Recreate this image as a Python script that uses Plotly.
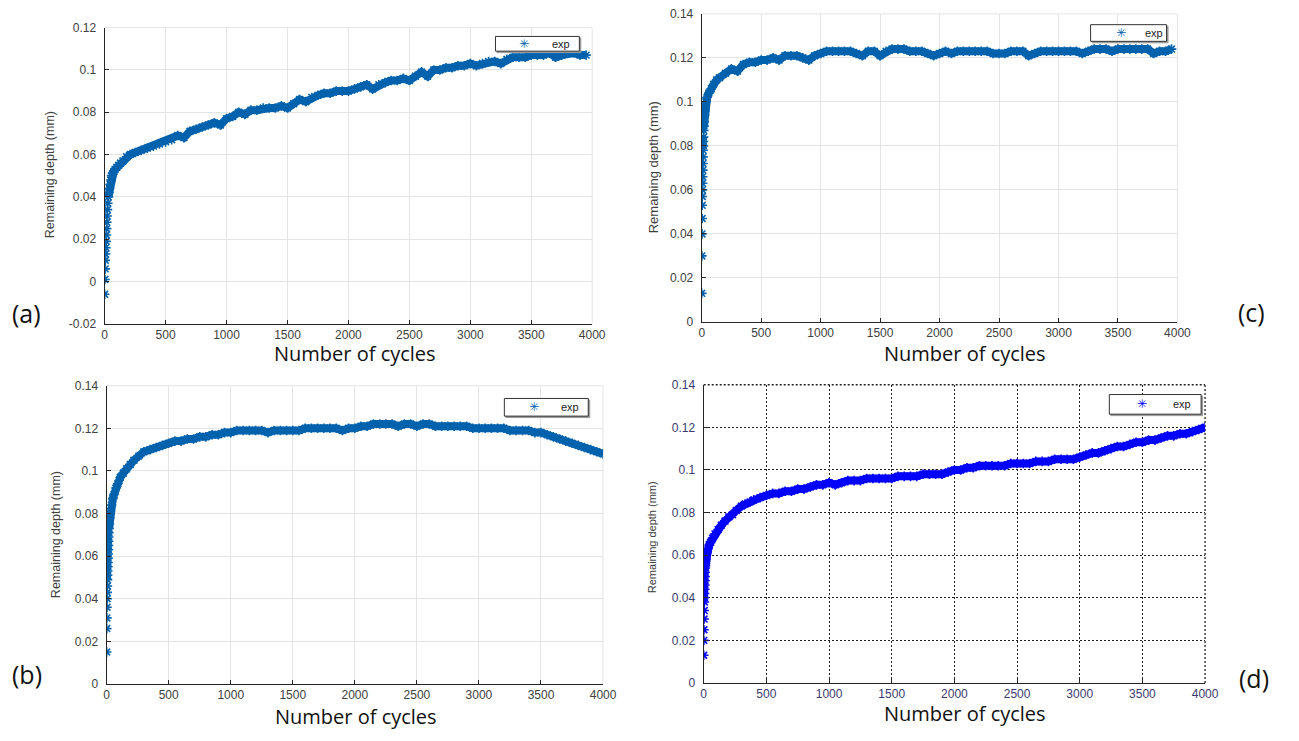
import plotly.graph_objects as go

# ---------------- data ----------------
bulk_cycles_3950 = [450, 500, 550, 600, 650, 700, 750, 800, 850, 900,
                    950, 1000, 1050, 1100, 1150, 1200, 1250, 1300, 1350, 1400,
                    1450, 1500, 1550, 1600, 1650, 1700, 1750, 1800, 1850, 1900,
                    1950, 2000, 2050, 2100, 2150, 2200, 2250, 2300, 2350, 2400,
                    2450, 2500, 2550, 2600, 2650, 2700, 2750, 2800, 2850, 2900,
                    2950, 3000, 3050, 3100, 3150, 3200, 3250, 3300, 3350, 3400,
                    3450, 3500, 3550, 3600, 3650, 3700, 3750, 3800, 3850, 3900,
                    3950]
bulk_cycles_4000 = bulk_cycles_3950 + [4000]

# (a)
cycles_a = [0, 2, 4, 6, 8, 10, 12, 14, 16, 18,
            20, 23, 26, 30, 35, 40, 45, 50, 57, 65,
            75, 85, 100, 115, 130, 150, 180, 210, 250, 300,
            350, 400] + bulk_cycles_3950
depth_a = [-0.006, 0.001, 0.006, 0.010, 0.013, 0.016, 0.019, 0.022, 0.025, 0.028,
           0.031, 0.034, 0.037, 0.040, 0.042, 0.044, 0.046, 0.048, 0.050, 0.051,
           0.052, 0.053, 0.054, 0.055, 0.056, 0.057, 0.059, 0.060, 0.061, 0.062,
           0.063, 0.064, 0.065, 0.066, 0.067, 0.069, 0.068, 0.071, 0.072, 0.073,
           0.074, 0.075, 0.074, 0.077, 0.078, 0.080, 0.079, 0.081, 0.081, 0.082,
           0.082, 0.082, 0.083, 0.082, 0.084, 0.086, 0.085, 0.087, 0.088, 0.089,
           0.089, 0.090, 0.090, 0.090, 0.091, 0.092, 0.093, 0.091, 0.093, 0.094,
           0.095, 0.095, 0.096, 0.095, 0.097, 0.099, 0.097, 0.100, 0.100, 0.101,
           0.101, 0.102, 0.102, 0.103, 0.102, 0.103, 0.104, 0.104, 0.103, 0.105,
           0.106, 0.106, 0.106, 0.107, 0.107, 0.107, 0.108, 0.106, 0.107, 0.108,
           0.108, 0.107, 0.107]

# (c)
cycles_c = [0, 1, 2, 3, 4, 5, 6, 7, 8, 9,
            10, 11, 12, 13, 14, 15, 17, 19, 21, 24,
            27, 30, 35, 45, 60, 80, 100, 125, 150, 200,
            250, 300, 350, 400] + bulk_cycles_3950
depth_c = [0.013, 0.030, 0.040, 0.047, 0.053, 0.057, 0.060, 0.063, 0.066, 0.069,
           0.072, 0.075, 0.078, 0.080, 0.082, 0.084, 0.087, 0.089, 0.091, 0.094,
           0.096, 0.098, 0.100, 0.102, 0.104, 0.106, 0.108, 0.110, 0.111, 0.113,
           0.115, 0.114, 0.117, 0.118,
           0.118, 0.119, 0.119, 0.120, 0.119, 0.121, 0.121, 0.121, 0.120, 0.119,
           0.121, 0.122, 0.123, 0.123, 0.123, 0.123, 0.123, 0.122, 0.121, 0.123,
           0.123, 0.121, 0.123, 0.124, 0.124, 0.124, 0.123, 0.123, 0.123, 0.122,
           0.121, 0.122, 0.123, 0.122, 0.123, 0.123, 0.123, 0.123, 0.123, 0.123,
           0.122, 0.122, 0.122, 0.123, 0.123, 0.123, 0.121, 0.122, 0.123, 0.123,
           0.123, 0.123, 0.123, 0.123, 0.123, 0.122, 0.123, 0.124, 0.124, 0.124,
           0.123, 0.124, 0.124, 0.124, 0.124, 0.124, 0.124, 0.122, 0.123, 0.123,
           0.124]

# (b)
cycles_b = [0, 1, 2, 3, 4, 5, 6, 7, 8, 9,
            10, 11, 12, 13, 14, 15, 16, 17, 18, 20,
            22, 25, 30, 40, 50, 60, 75, 90, 110, 135,
            160, 190, 220, 260, 300, 350, 400] + bulk_cycles_4000
depth_b = [0.015, 0.026, 0.031, 0.036, 0.040, 0.043, 0.046, 0.049, 0.051, 0.053,
           0.055, 0.057, 0.059, 0.061, 0.063, 0.065, 0.067, 0.069, 0.071, 0.073,
           0.075, 0.078, 0.081, 0.084, 0.087, 0.089, 0.092, 0.094, 0.097, 0.099,
           0.101, 0.103, 0.105, 0.107, 0.109, 0.110, 0.111,
           0.112, 0.113, 0.114, 0.114, 0.115, 0.115, 0.116, 0.116, 0.117, 0.117,
           0.118, 0.118, 0.119, 0.119, 0.119, 0.119, 0.119, 0.118, 0.119, 0.119,
           0.119, 0.119, 0.119, 0.120, 0.120, 0.120, 0.120, 0.120, 0.120, 0.119,
           0.120, 0.120, 0.121, 0.121, 0.122, 0.122, 0.122, 0.122, 0.121, 0.122,
           0.122, 0.121, 0.122, 0.122, 0.121, 0.121, 0.121, 0.121, 0.121, 0.121,
           0.120, 0.120, 0.120, 0.120, 0.120, 0.120, 0.119, 0.119, 0.119, 0.119,
           0.118, 0.118, 0.117, 0.116, 0.115, 0.114, 0.113, 0.112, 0.111, 0.110,
           0.109, 0.108]

# (d)
cycles_d = [0, 1, 2, 3, 4, 5, 6, 7, 8, 9,
            10, 11, 12, 13, 14, 15, 16, 18, 20, 25,
            35, 45, 55, 70, 90, 115, 140, 170, 200, 230,
            260, 300, 330, 370, 400] + bulk_cycles_4000
depth_d = [0.013, 0.020, 0.025, 0.030, 0.034, 0.038, 0.040, 0.042, 0.044, 0.046,
           0.048, 0.050, 0.052, 0.054, 0.055, 0.056, 0.057, 0.058, 0.060, 0.061,
           0.063, 0.065, 0.066, 0.068, 0.070, 0.072, 0.074, 0.076, 0.078, 0.079,
           0.081, 0.083, 0.084, 0.085, 0.086,
           0.087, 0.088, 0.089, 0.089, 0.090, 0.090, 0.091, 0.091, 0.092, 0.093,
           0.093, 0.094, 0.093, 0.094, 0.095, 0.095, 0.095, 0.096, 0.096, 0.096,
           0.096, 0.096, 0.097, 0.097, 0.097, 0.097, 0.098, 0.098, 0.098, 0.098,
           0.099, 0.100, 0.100, 0.101, 0.101, 0.102, 0.102, 0.102, 0.102, 0.102,
           0.103, 0.103, 0.103, 0.103, 0.104, 0.104, 0.104, 0.105, 0.105, 0.105,
           0.105, 0.106, 0.107, 0.108, 0.108, 0.109, 0.110, 0.111, 0.111, 0.112,
           0.113, 0.113, 0.114, 0.114, 0.115, 0.116, 0.116, 0.117, 0.117, 0.118,
           0.119, 0.120]

x_ticks = [0, 500, 1000, 1500, 2000, 2500, 3000, 3500, 4000]
y_ticks_a = [-0.02, 0, 0.02, 0.04, 0.06, 0.08, 0.1, 0.12]
y_labels_a = ["-0.02", "0", "0.02", "0.04", "0.06", "0.08", "0.1", "0.12"]
y_ticks = [0, 0.02, 0.04, 0.06, 0.08, 0.1, 0.12, 0.14]
y_labels = ["0", "0.02", "0.04", "0.06", "0.08", "0.1", "0.12", "0.14"]
series_name = "exp"
panel_tags = ["(a)", "(c)", "(b)", "(d)"]
x_title = "Number of cycles"
y_title = "Remaining depth (mm)"

# ---------------- layout geometry (pixels) ----------------
W, H = 1299, 741


def fx(px):
    return px / W


def fy(py):
    return 1 - py / H


MATLAB_BLUE = "#0062ad"
PURE_BLUE = "#0000ff"

panels = [
    dict(x=cycles_a, y=depth_a, color=MATLAB_BLUE, box=(103, 597, 21, 323),
         yr=[-0.02, 0.12], yt=y_ticks_a, yl=y_labels_a, line_from=13,
         legend=(499, 584, 30, 45, 528, 565), ytitle=(47, 171, 12.5), xtitle=(357, 353),
         tag=(24, 312), style="matlab"),
    dict(x=cycles_c, y=depth_c, color=MATLAB_BLUE, box=(708, 1190, 7, 321),
         yr=[0, 0.14], yt=y_ticks, yl=y_labels, line_from=17,
         legend=(1102, 1179, 18, 35, 1133, 1166), ytitle=(660, 163, 13), xtitle=(975, 353),
         tag=(1265, 311), style="matlab"),
    dict(x=cycles_b, y=depth_b, color=MATLAB_BLUE, box=(105, 608, 386, 690),
         yr=[0, 0.14], yt=y_ticks, yl=y_labels, line_from=19,
         legend=(508, 593, 399, 417, 538, 575), ytitle=(54, 538, 12.5), xtitle=(358, 723),
         tag=(24, 680), style="matlab"),
    dict(x=cycles_d, y=depth_d, color=PURE_BLUE, box=(710, 1218, 385, 689),
         yr=[0, 0.14], yt=y_ticks, yl=y_labels, line_from=14,
         legend=(1121, 1214, 395, 415, 1154, 1195), ytitle=(657, 540, 11), xtitle=(975, 720),
         tag=(1268, 684), style="old"),
]

fig = go.Figure()
annotations = []
shapes = []
layout = dict(
    width=W, height=H,
    margin=dict(l=0, r=0, t=0, b=0),
    paper_bgcolor="white", plot_bgcolor="white",
    showlegend=False,
)

for i, p in enumerate(panels, start=1):
    sfx = "" if i == 1 else str(i)
    xa, ya = "x" + sfx, "y" + sfx
    x0, x1, y0, y1 = p["box"]

    # dense band (measured points drawn as a thick band, as in the picture)
    fig.add_trace(go.Scatter(
        x=p["x"][p["line_from"]:], y=p["y"][p["line_from"]:],
        mode="lines", line=dict(color=p["color"], width=8),
        xaxis=xa, yaxis=ya, showlegend=False, hoverinfo="skip"))
    fig.add_trace(go.Scatter(
        x=p["x"], y=p["y"], mode="markers", name=series_name,
        marker=dict(symbol="asterisk-open", size=8, color=p["color"],
                    line=dict(color=p["color"], width=1.6)),
        xaxis=xa, yaxis=ya))

    old = p["style"] == "old"
    tick_col = "#3a3a6e" if old else "#404040"
    grid_col = "#222222" if old else "#e4e4e4"
    grid = dict(showgrid=True, gridcolor=grid_col, gridwidth=1.3 if old else 1)
    if old:
        grid["griddash"] = "2px,2px"

    common = dict(showline=True, linecolor="#262626", linewidth=1.2,
                  ticks="inside", ticklen=4, tickcolor="#262626",
                  zeroline=False, mirror=False,
                  tickfont=dict(family="Liberation Sans", size=12, color=tick_col),
                  **grid)
    layout["xaxis" + sfx] = dict(domain=[fx(x0), fx(x1)], range=[0, 4000],
                                 tickvals=x_ticks, anchor=ya, **common)
    layout["yaxis" + sfx] = dict(domain=[fy(y1), fy(y0)], range=p["yr"],
                                 tickvals=p["yt"], ticktext=p["yl"], anchor=xa,
                                 ticklabelstandoff=5, **common)

    # top and right frame lines drawn in grid style
    edge_line = dict(color=grid_col, width=1.3 if old else 1, dash="2px,2px" if old else "solid")
    shapes.append(dict(type="line", xref=xa + " domain", yref=ya + " domain",
                       x0=0, x1=1, y0=1, y1=1, line=edge_line, layer="below"))
    shapes.append(dict(type="line", xref=xa + " domain", yref=ya + " domain",
                       x0=1, x1=1, y0=0, y1=1, line=edge_line, layer="below"))

    # legend box (MATLAB style)
    bx0, bx1, by0, by1, mx, tx_ = p["legend"]
    shapes.append(dict(type="rect", xref="paper", yref="paper",
                       x0=fx(bx0 + 1.5), x1=fx(bx1 + 1.5), y0=fy(by1 + 1.5), y1=fy(by0 + 1.5),
                       line=dict(color="#9a9a9a", width=1), fillcolor="#9a9a9a", layer="above"))
    shapes.append(dict(type="rect", xref="paper", yref="paper",
                       x0=fx(bx0), x1=fx(bx1), y0=fy(by1), y1=fy(by0),
                       line=dict(color="#333333", width=1), fillcolor="white", layer="above"))
    annotations.append(dict(text="✳", x=fx(mx), y=fy((by0 + by1) / 2), xref="paper",
                            yref="paper", showarrow=False, xanchor="center", yanchor="middle",
                            font=dict(family="DejaVu Sans", size=12, color=p["color"])))
    annotations.append(dict(text=series_name, x=fx(tx_), y=fy((by0 + by1) / 2), xref="paper",
                            yref="paper", showarrow=False, xanchor="center", yanchor="middle",
                            font=dict(family="Liberation Sans", size=11, color="#222222")))

    tx, ty, ts = p["ytitle"]
    annotations.append(dict(text=y_title, x=fx(tx), y=fy(ty), xref="paper", yref="paper",
                            textangle=-90, showarrow=False, xanchor="center", yanchor="middle",
                            font=dict(family="Liberation Sans", size=ts, color="#404040")))
    nx, ny = p["xtitle"]
    annotations.append(dict(text=x_title, x=fx(nx), y=fy(ny), xref="paper", yref="paper",
                            showarrow=False, xanchor="center", yanchor="middle",
                            font=dict(family="Open Sans", size=20, color="#111111")))
    gx, gy = p["tag"]
    annotations.append(dict(text=panel_tags[i - 1], x=fx(gx), y=fy(gy), xref="paper",
                            yref="paper", showarrow=False, xanchor="center", yanchor="middle",
                            font=dict(family="Open Sans", size=25, color="#111111")))

layout["annotations"] = annotations
layout["shapes"] = shapes
fig.update_layout(**layout)
fig.write_html("out.html", config={"displayModeBar": False},
               post_script="document.body.style.margin='0';document.body.style.padding='0';")
